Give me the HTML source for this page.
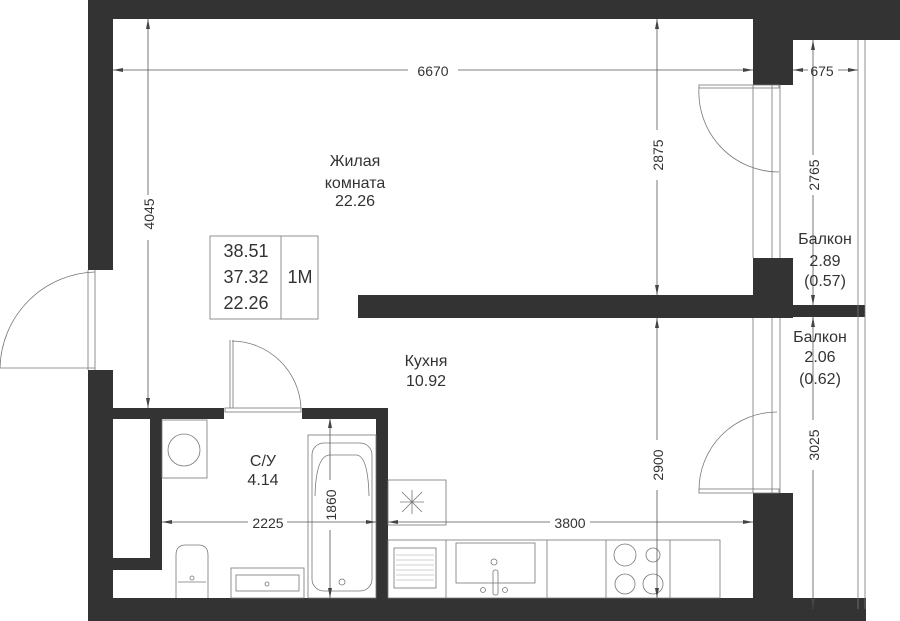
<!DOCTYPE html><html><head><style>body{margin:0;background:#fff}svg{display:block}text{font-family:"Liberation Sans",sans-serif;fill:#333}</style></head><body>
<svg width="900" height="621" viewBox="0 0 900 621" xmlns="http://www.w3.org/2000/svg">
<defs><marker id="a" viewBox="0 0 10 4" refX="10" refY="2" markerWidth="10" markerHeight="4" orient="auto-start-reverse" markerUnits="userSpaceOnUse"><path d="M0 0 L10 2 L0 4z" fill="#444"/></marker></defs>
<g fill="#333">
<rect x="88" y="0" width="812" height="19"/>
<rect x="753" y="0" width="147" height="40"/>
<rect x="753" y="0" width="40" height="85"/>
<rect x="88" y="0" width="25" height="270"/>
<rect x="88" y="370" width="25" height="251"/>
<rect x="88" y="598" width="778" height="23"/>
<rect x="793" y="609" width="73" height="12"/>
<rect x="753" y="258" width="40" height="60"/>
<rect x="358" y="295" width="435" height="23"/>
<rect x="793" y="305" width="72" height="12"/>
<rect x="753" y="493" width="40" height="110"/>
<rect x="113" y="408" width="111" height="11"/>
<rect x="302" y="408" width="86" height="11"/>
<rect x="376" y="408" width="12" height="192"/>
<rect x="150" y="418" width="12" height="152"/>
<rect x="113" y="558" width="49" height="12"/>
</g>
<g fill="none" stroke="#777" stroke-width="0.8">
<line x1="858" y1="40" x2="858" y2="609"/><line x1="865" y1="40" x2="865" y2="609"/>
<line x1="753" y1="85" x2="753" y2="258"/><line x1="772" y1="85" x2="772" y2="258"/><line x1="780" y1="85" x2="780" y2="258"/>
<line x1="753" y1="318" x2="753" y2="493"/><line x1="772" y1="318" x2="772" y2="493"/><line x1="780" y1="318" x2="780" y2="493"/>
<rect x="699" y="85" width="80" height="3"/><path d="M699 87 A80 80 0 0 0 779 172"/>
<rect x="699" y="489" width="80" height="4"/><path d="M699 490 A78 78 0 0 1 777 412"/>
<line x1="88" y1="270" x2="88" y2="370"/><line x1="95" y1="270" x2="95" y2="370"/><path d="M95 272 A98 98 0 0 0 0 368"/><line x1="0" y1="368" x2="95" y2="368"/>
<rect x="225" y="408" width="76" height="4"/><line x1="230" y1="340" x2="230" y2="408"/><line x1="233" y1="340" x2="233" y2="408"/><path d="M232 341 A70 70 0 0 1 301 408"/>
<rect x="162" y="420" width="45" height="58"/><circle cx="184" cy="450" r="16"/>
<rect x="308" y="435" width="68" height="163"/><rect x="312" y="443" width="60" height="148" rx="12"/><path d="M315 496 Q316 455 330 455 L356 455 Q368 455 369 496"/><circle cx="342" cy="582" r="3"/>
<path d="M176 598 L176 555 Q176 545 186 545 L198 545 Q208 545 208 555 L208 598 M178 582 L206 582"/><circle cx="192" cy="578" r="2"/>
<rect x="231" y="568" width="73" height="30"/><rect x="236" y="575" width="63" height="16"/><circle cx="267" cy="584" r="2"/>
<rect x="388" y="480" width="58" height="45"/>
<path d="M402 512 L422 492 M402 492 L422 512 M412 490 L412 514 M400 502 L424 502"/>
<rect x="388" y="540" width="332" height="58"/>
<line x1="446" y1="540" x2="446" y2="598"/><line x1="547" y1="540" x2="547" y2="598"/><line x1="606" y1="540" x2="606" y2="598"/><line x1="670" y1="540" x2="670" y2="598"/>
<rect x="394" y="548" width="42" height="40"/>
<rect x="456" y="543" width="79" height="40"/><rect x="493" y="570" width="5" height="25" rx="2"/><circle cx="494" cy="562" r="3"/><circle cx="483" cy="590" r="2.5"/><circle cx="505" cy="590" r="2.5"/>
<circle cx="625" cy="555" r="11"/><circle cx="653" cy="555" r="7"/><circle cx="625" cy="584" r="10"/><circle cx="653" cy="584" r="10"/>
<rect x="210" y="236" width="108" height="83"/><line x1="281" y1="236" x2="281" y2="319"/>
</g>
<g stroke="#888" stroke-width="0.4"><line x1="396" y1="555" x2="434" y2="555"/><line x1="396" y1="560" x2="434" y2="560"/><line x1="396" y1="565" x2="434" y2="565"/><line x1="396" y1="570" x2="434" y2="570"/><line x1="396" y1="575" x2="434" y2="575"/><line x1="396" y1="580" x2="434" y2="580"/></g>
<g stroke="#555" stroke-width="0.8" fill="none">
<line x1="113" y1="70" x2="408" y2="70" marker-start="url(#a)"/><line x1="458" y1="70" x2="753" y2="70" marker-end="url(#a)"/>
<line x1="793" y1="70" x2="808" y2="70" marker-start="url(#a)"/><line x1="838" y1="70" x2="858" y2="70" marker-end="url(#a)"/>
<line x1="148" y1="19" x2="148" y2="195" marker-start="url(#a)"/><line x1="148" y1="240" x2="148" y2="408" marker-end="url(#a)"/>
<line x1="657" y1="19" x2="657" y2="130" marker-start="url(#a)"/><line x1="657" y1="180" x2="657" y2="295" marker-end="url(#a)"/>
<line x1="657" y1="318" x2="657" y2="440" marker-start="url(#a)"/><line x1="657" y1="490" x2="657" y2="598" marker-end="url(#a)"/>
<line x1="813" y1="40" x2="813" y2="155" marker-start="url(#a)"/><line x1="813" y1="195" x2="813" y2="305" marker-end="url(#a)"/>
<line x1="813" y1="317" x2="813" y2="420" marker-start="url(#a)"/><line x1="813" y1="470" x2="813" y2="609" marker-end="url(#a)"/>
<line x1="330" y1="418" x2="330" y2="480" marker-start="url(#a)"/><line x1="330" y1="530" x2="330" y2="598" marker-end="url(#a)"/>
<line x1="162" y1="522" x2="248" y2="522" marker-start="url(#a)"/><line x1="287" y1="522" x2="376" y2="522" marker-end="url(#a)"/>
<line x1="388" y1="522" x2="550" y2="522" marker-start="url(#a)"/><line x1="590" y1="522" x2="753" y2="522" marker-end="url(#a)"/>
</g>
<g font-size="16" text-anchor="middle">
<text x="433" y="76" font-size="14">6670</text>
<text x="822" y="76" font-size="14">675</text>
<text transform="translate(154,214) rotate(-90)" font-size="14">4045</text>
<text transform="translate(663,155) rotate(-90)" font-size="14">2875</text>
<text transform="translate(663,465) rotate(-90)" font-size="14">2900</text>
<text transform="translate(819,175) rotate(-90)" font-size="14">2765</text>
<text transform="translate(819,445) rotate(-90)" font-size="14">3025</text>
<text transform="translate(336,505) rotate(-90)" font-size="14">1860</text>
<text x="268" y="528" font-size="14">2225</text>
<text x="570" y="528" font-size="14">3800</text>
<text x="355" y="166">Жилая</text><text x="355" y="188">комната</text><text x="355" y="206">22.26</text>
<text x="426" y="366">Кухня</text><text x="426" y="386">10.92</text>
<text x="263" y="466">С/У</text><text x="263" y="485">4.14</text>
<text x="825" y="244">Балкон</text><text x="825" y="266">2.89</text><text x="825" y="286">(0.57)</text>
<text x="820" y="342">Балкон</text><text x="820" y="362">2.06</text><text x="820" y="384">(0.62)</text>
<text x="246" y="257" font-size="18">38.51</text><text x="246" y="283" font-size="18">37.32</text><text x="246" y="309" font-size="18">22.26</text>
<text x="300" y="283" font-size="18">1М</text>
</g>
</svg></body></html>
